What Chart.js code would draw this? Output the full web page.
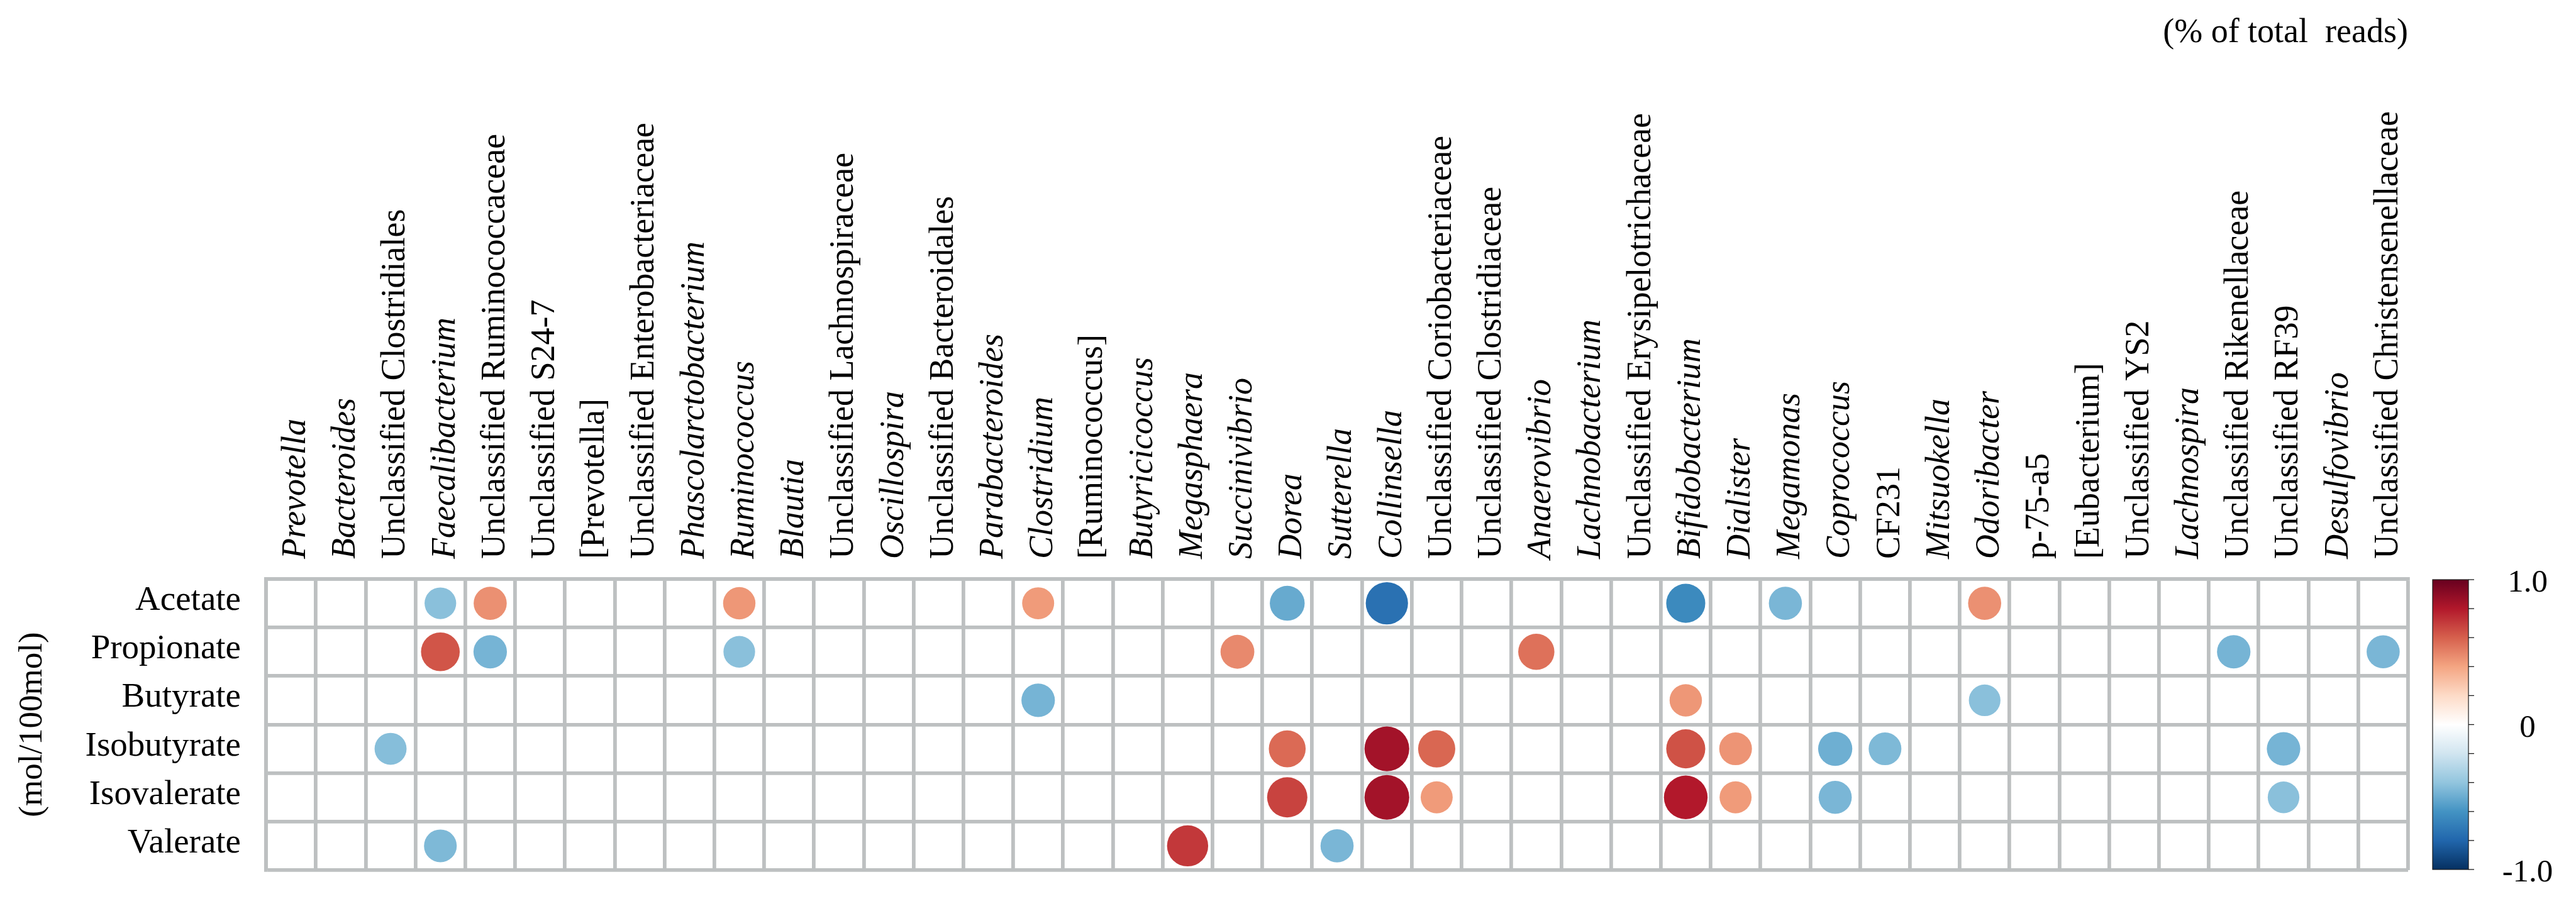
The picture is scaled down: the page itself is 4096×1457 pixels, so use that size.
<!DOCTYPE html>
<html>
<head>
<meta charset="utf-8">
<script src="https://cdn.jsdelivr.net/npm/chart.js@4.4.0/dist/chart.umd.min.js"></script>
<style>
  html, body { margin: 0; padding: 0; background: #ffffff; }
  #wrap { width: 4096px; height: 1457px; }
  canvas { display: block; }
</style>
</head>
<body>
<div id="wrap"><canvas id="chart" width="4096" height="1457"></canvas></div>
<script>
// Taxa (columns), in display order
const taxa = [
  'Prevotella', 'Bacteroides', 'Unclassified Clostridiales', 'Faecalibacterium',
  'Unclassified Ruminococcaceae', 'Unclassified S24-7', '[Prevotella]',
  'Unclassified Enterobacteriaceae', 'Phascolarctobacterium', 'Ruminococcus',
  'Blautia', 'Unclassified Lachnospiraceae', 'Oscillospira', 'Unclassified Bacteroidales',
  'Parabacteroides', 'Clostridium', '[Ruminococcus]', 'Butyricicoccus', 'Megasphaera',
  'Succinivibrio', 'Dorea', 'Sutterella', 'Collinsella', 'Unclassified Coriobacteriaceae',
  'Unclassified Clostridiaceae', 'Anaerovibrio', 'Lachnobacterium',
  'Unclassified Erysipelotrichaceae', 'Bifidobacterium', 'Dialister', 'Megamonas',
  'Coprococcus', 'CF231', 'Mitsuokella', 'Odoribacter', 'p-75-a5', '[Eubacterium]',
  'Unclassified YS2', 'Lachnospira', 'Unclassified Rikenellaceae', 'Unclassified RF39',
  'Desulfovibrio', 'Unclassified Christensenellaceae'
];

// Genus names are set in italics
const italicTaxa = [
  'Prevotella', 'Bacteroides', 'Faecalibacterium', 'Phascolarctobacterium', 'Ruminococcus',
  'Blautia', 'Oscillospira', 'Parabacteroides', 'Clostridium', 'Butyricicoccus',
  'Megasphaera', 'Succinivibrio', 'Dorea', 'Sutterella', 'Collinsella', 'Anaerovibrio',
  'Lachnobacterium', 'Bifidobacterium', 'Dialister', 'Megamonas', 'Coprococcus',
  'Mitsuokella', 'Odoribacter', 'Lachnospira', 'Desulfovibrio'
];

// Short-chain fatty acids (rows), top to bottom
const acids = ['Acetate', 'Propionate', 'Butyrate', 'Isobutyrate', 'Isovalerate', 'Valerate'];

// Significant correlations per fatty acid: [taxon, r]
const acetate = [
  ['Faecalibacterium', -0.42], ['Unclassified Ruminococcaceae', 0.46], ['Ruminococcus', 0.44],
  ['Clostridium', 0.43], ['Dorea', -0.51], ['Collinsella', -0.75], ['Bifidobacterium', -0.64],
  ['Megamonas', -0.46], ['Odoribacter', 0.46]
];
const propionate = [
  ['Faecalibacterium', 0.63], ['Unclassified Ruminococcaceae', -0.47], ['Ruminococcus', -0.42],
  ['Succinivibrio', 0.48], ['Anaerovibrio', 0.55], ['Unclassified Rikenellaceae', -0.47],
  ['Unclassified Christensenellaceae', -0.46]
];
const butyrate = [
  ['Clostridium', -0.47], ['Bifidobacterium', 0.44], ['Odoribacter', -0.42]
];
const isobutyrate = [
  ['Unclassified Clostridiales', -0.43], ['Dorea', 0.57], ['Collinsella', 0.84],
  ['Unclassified Coriobacteriaceae', 0.58], ['Bifidobacterium', 0.64], ['Dialister', 0.45],
  ['Coprococcus', -0.49], ['CF231', -0.45], ['Unclassified RF39', -0.47]
];
const isovalerate = [
  ['Dorea', 0.68], ['Collinsella', 0.84], ['Unclassified Coriobacteriaceae', 0.43],
  ['Bifidobacterium', 0.80], ['Dialister', 0.43], ['Coprococcus', -0.46],
  ['Unclassified RF39', -0.42]
];
const valerate = [
  ['Faecalibacterium', -0.45], ['Megasphaera', 0.71], ['Sutterella', -0.46]
];

// Colour bar tick labels
const colorbarTicks = [1.0, 0, -1.0];
const colorbarLabels = ['1.0', '0', '-1.0'];

const rows = [acetate, propionate, butyrate, isobutyrate, isovalerate, valerate];

// Red-blue diverging palette, from r = -1 to r = +1
const rdbu = ['#053061', '#2166AC', '#4393C3', '#92C5DE', '#D1E5F0', '#FFFFFF',
              '#FDDBC7', '#F4A582', '#D6604D', '#B2182B', '#67001F'];

function hexToRgb(h) {
  return [parseInt(h.slice(1, 3), 16), parseInt(h.slice(3, 5), 16), parseInt(h.slice(5, 7), 16)];
}
function colorFor(r) {
  const t = (Math.max(-1, Math.min(1, r)) + 1) / 2 * (rdbu.length - 1);
  const i = Math.min(Math.floor(t), rdbu.length - 2);
  const f = t - i;
  const a = hexToRgb(rdbu[i]), b = hexToRgb(rdbu[i + 1]);
  const c = a.map((v, k) => Math.round(v + (b[k] - v) * f));
  return `rgb(${c[0]},${c[1]},${c[2]})`;
}

const FONT = "'Liberation Serif', 'Times New Roman', serif";
const GRID = '#BDC0C1';

// Circle radius grows with the square root of |r|, scaled to the cell width
function circleRadius(ctx) {
  const xs = ctx.chart.scales.x;
  const cell = Math.abs(xs.getPixelForValue(1) - xs.getPixelForValue(0));
  return 0.49 * cell * Math.sqrt(Math.abs(ctx.raw.r));
}

const datasets = acids.map((acid, k) => ({
  label: acid,
  data: rows[k].map(([taxon, r]) => ({ x: taxon, y: acid, r: r })),
  backgroundColor: ctx => colorFor(ctx.raw.r),
  borderWidth: 0,
  pointRadius: circleRadius,
  pointHoverRadius: circleRadius
}));

// Vertical colour bar with its tick marks and labels, right of the plot area
const colorbarPlugin = {
  id: 'colorbar',
  afterDraw(chart) {
    const { ctx, chartArea } = chart;
    const left = chartArea.right + 39;
    const width = 57;
    const top = chartArea.top + 1;
    const bottom = chartArea.bottom - 1;
    const grad = ctx.createLinearGradient(0, bottom, 0, top);
    rdbu.forEach((c, i) => grad.addColorStop(i / (rdbu.length - 1), c));
    ctx.save();
    ctx.fillStyle = grad;
    ctx.fillRect(left, top, width, bottom - top);
    ctx.strokeStyle = '#1a1a1a';
    ctx.lineWidth = 1.2;
    ctx.strokeRect(left, top, width, bottom - top);
    const yOf = v => bottom - (v + 1) / 2 * (bottom - top);
    ctx.lineWidth = 1.3;
    for (let k = 0; k <= 10; k++) {
      const y = yOf(-1 + k * 0.2);
      ctx.beginPath();
      ctx.moveTo(left + width, y);
      ctx.lineTo(left + width + 9, y);
      ctx.stroke();
    }
    ctx.fillStyle = '#000000';
    ctx.font = `51px ${FONT}`;
    ctx.textAlign = 'center';
    ctx.textBaseline = 'middle';
    colorbarTicks.forEach((v, i) => {
      ctx.fillText(colorbarLabels[i], left + width + 94, yOf(v) + 6);
    });
    ctx.restore();
  }
};

new Chart(document.getElementById('chart'), {
  type: 'scatter',
  data: { datasets },
  plugins: [colorbarPlugin],
  options: {
    responsive: false,
    devicePixelRatio: 1,
    animation: false,
    events: [],
    layout: { padding: { left: 0, top: 0, right: 267, bottom: 63 } },
    plugins: {
      legend: { display: false },
      tooltip: { enabled: false }
    },
    scales: {
      x: {
        type: 'category',
        labels: taxa,
        position: 'top',
        offset: true,
        afterFit: s => { s.height = 921; },
        grid: { offset: true, color: GRID, lineWidth: 5.8, drawTicks: false },
        border: { display: true, color: GRID, width: 5.8 },
        ticks: {
          autoSkip: false,
          minRotation: 90,
          maxRotation: 90,
          padding: 32,
          labelOffset: 73,
          color: '#000000',
          font: ctx => ({
            family: FONT,
            size: 54,
            style: italicTaxa.includes(taxa[ctx.index]) ? 'italic' : 'normal'
          })
        },
        title: {
          display: true,
          text: '(% of total  reads)',
          align: 'end',
          color: '#000000',
          font: { family: FONT, size: 54 },
          padding: { top: 20, bottom: 0 }
        }
      },
      y: {
        type: 'category',
        labels: acids,
        position: 'left',
        offset: true,
        afterFit: s => { s.width = 423; },
        grid: { offset: true, color: GRID, lineWidth: 5.8, drawTicks: false },
        border: { display: true, color: GRID, width: 5.8 },
        ticks: {
          autoSkip: false,
          padding: 40,
          labelOffset: -4,
          color: '#000000',
          font: { family: FONT, size: 55 }
        },
        title: {
          display: true,
          text: '(mol/100mol)',
          color: '#000000',
          font: { family: FONT, size: 53 },
          padding: { top: 20, bottom: 0 }
        }
      }
    }
  }
});
</script>
</body>
</html>
